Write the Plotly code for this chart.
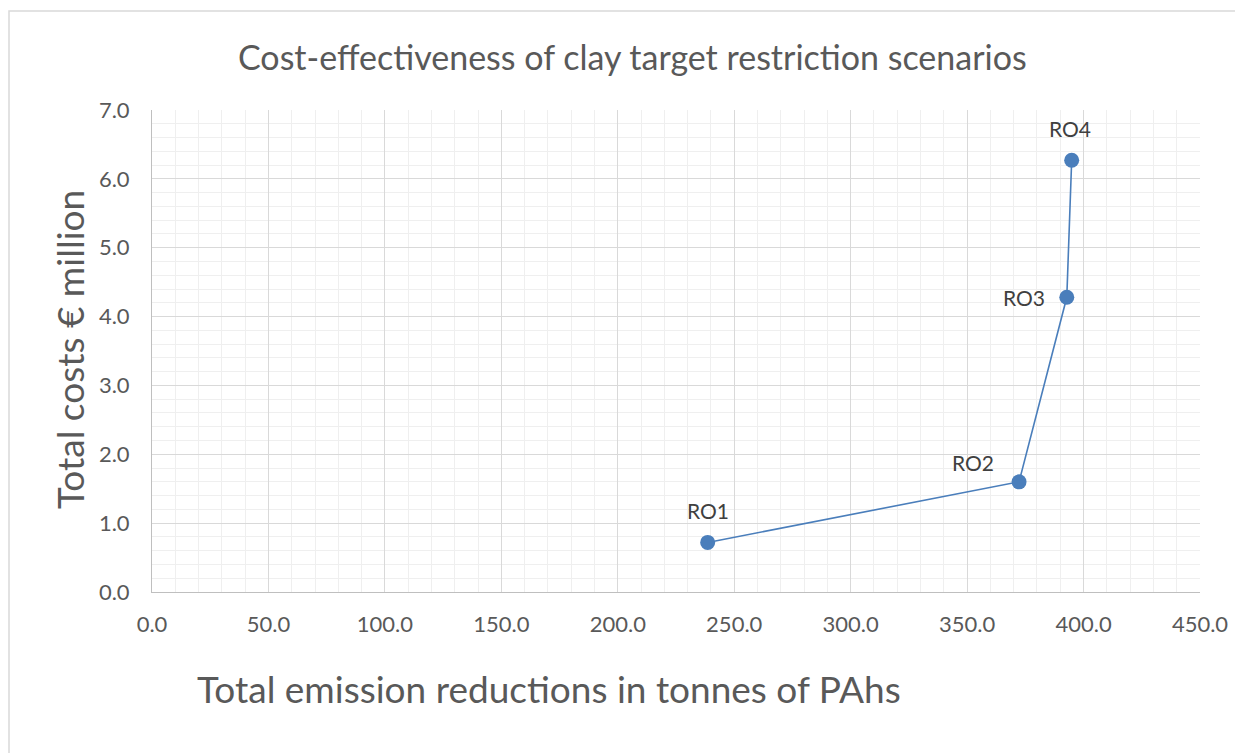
import plotly.graph_objects as go

scenarios = ["RO1", "RO2", "RO3", "RO4"]
emission_reductions = [238.6, 372.3, 392.8, 394.9]
total_costs = [0.72, 1.60, 4.28, 6.27]
label_shifts = [(0, 32), (-46, 19), (-43, 0), (-2, 32)]

x_ticks = [0, 50, 100, 150, 200, 250, 300, 350, 400, 450]
y_ticks = [0, 1, 2, 3, 4, 5, 6, 7]

OFF = 8  # page body margin of the browser
W, H = 1243 - OFF, 753 - OFF
L, R, T, B = 152 - OFF, 1200 - OFF, 110 - OFF, 592 - OFF
pw, ph = R - L, B - T

def px_x(p):
    return (p - OFF - L) / pw

def px_y(p):
    return (B - (p - OFF)) / ph

FONT = "Lato"
GREY = "#595959"

fig = go.Figure()
fig.add_trace(go.Scatter(
    x=emission_reductions, y=total_costs,
    mode="lines+markers",
    line=dict(color="#4A7EBB", width=1.6),
    marker=dict(color="#4A7EBB", size=15),
    showlegend=False, cliponaxis=False,
))

annotations = [
    dict(text="Cost-effectiveness of clay target restriction scenarios",
         xref="paper", yref="paper", x=px_x(632), y=px_y(57),
         xanchor="center", yanchor="middle", showarrow=False,
         font=dict(family=FONT, size=34, color=GREY)),
    dict(text="Total emission reductions in tonnes of PAhs",
         xref="paper", yref="paper", x=px_x(549), y=px_y(688),
         xanchor="center", yanchor="middle", showarrow=False,
         font=dict(family=FONT, size=37, color=GREY)),
    dict(text="Total costs € million",
         xref="paper", yref="paper", x=px_x(69), y=px_y(350),
         xanchor="center", yanchor="middle", showarrow=False, textangle=-90,
         font=dict(family=FONT, size=37, color=GREY)),
]
for name, xv, yv, (dx, dy) in zip(scenarios, emission_reductions, total_costs, label_shifts):
    annotations.append(dict(text=name, x=xv, y=yv, xref="x", yref="y",
                            xanchor="center", yanchor="middle", showarrow=False,
                            xshift=dx, yshift=dy,
                            font=dict(family=FONT, size=21, color="#404040")))

fig.update_layout(
    width=W, height=H,
    margin=dict(l=L, r=W - R, t=T, b=H - B),
    paper_bgcolor="white", plot_bgcolor="white",
    font=dict(family=FONT, color=GREY),
    annotations=annotations,
    xaxis=dict(range=[0, 450], tickvals=x_ticks,
               ticktext=[f"{v:.1f}" for v in x_ticks],
               showgrid=True, gridcolor="#d9d9d9", gridwidth=1,
               minor=dict(dtick=10, showgrid=True, gridcolor="#efefef", gridwidth=1),
               zeroline=False, showline=True, linecolor="#bfbfbf", linewidth=1,
               ticks="", tickfont=dict(family=FONT, size=22, color=GREY),
               ticklabelstandoff=13),
    yaxis=dict(range=[0, 7], tickvals=y_ticks,
               ticktext=[f"{v:.1f}" for v in y_ticks],
               showgrid=True, gridcolor="#d9d9d9", gridwidth=1,
               minor=dict(dtick=0.2, showgrid=True, gridcolor="#efefef", gridwidth=1),
               zeroline=False, showline=True, linecolor="#bfbfbf", linewidth=1,
               ticks="", tickfont=dict(family=FONT, size=22, color=GREY),
               ticklabelstandoff=17),
    shapes=[dict(type="rect", xref="paper", yref="paper",
                 x0=px_x(9), x1=px_x(1270), y0=px_y(790), y1=px_y(11),
                 line=dict(color="#d9d9d9", width=1.5), fillcolor="rgba(0,0,0,0)",
                 layer="below")],
)

fig.write_html("out.html")
